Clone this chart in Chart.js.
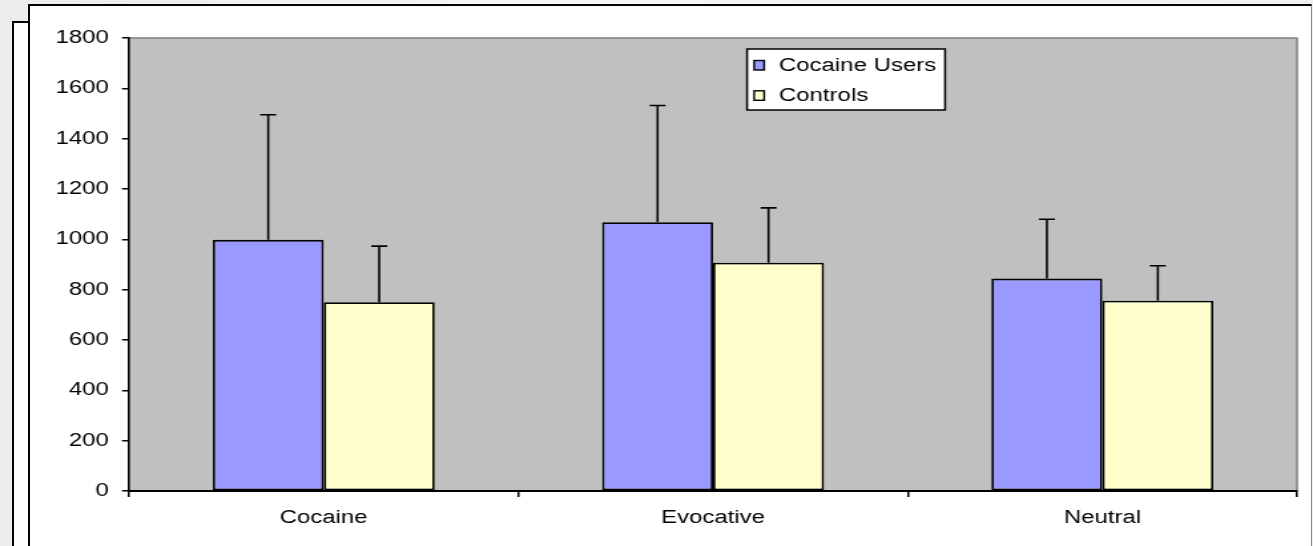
<!DOCTYPE html>
<html>
<head>
<meta charset="utf-8">
<script src="https://cdn.jsdelivr.net/npm/chart.js@4.4.1/dist/chart.umd.min.js"></script>
<style>
  html, body { margin: 0; padding: 0; }
  body { width: 1313px; height: 546px; overflow: hidden; position: relative;
         background: linear-gradient(90deg, #ececec, #f6f6f6 40%, #f0f0f0); }
  #back { position: absolute; left: 12px; top: 21px; width: 30px; height: 600px;
          background: #fff; border-left: 2px solid #000; border-top: 2px solid #000; }
  #frame { position: absolute; left: 28px; top: 4px; width: 1281px; height: 600px;
           background: #fff; border-left: 2px solid #000; border-top: 2px solid #000;
           border-right: 1px solid #888; }
  /* the original picture is stretched sideways, so the chart is drawn narrow and scaled */
  #wrap { position: absolute; left: 0; top: 0; width: 987px; height: 546px;
          transform: scaleX(1.3303); transform-origin: 0 0; }
</style>
</head>
<body>
<div id="back"></div>
<div id="frame"></div>
<div id="wrap"><canvas id="chart" width="987" height="546"></canvas></div>
<script>
const categories = ["Cocaine", "Evocative", "Neutral"];
const seriesNames = ["Cocaine Users", "Controls"];
const cocaineUsers = [998, 1068, 844];
const controls = [750, 907, 756];
// upper error bar lengths
const cocaineUsersErr = [497, 464, 236];
const controlsErr = [223, 218, 139];
const yTicks = [0, 200, 400, 600, 800, 1000, 1200, 1400, 1600, 1800];

const errors = [cocaineUsersErr, controlsErr];

Chart.defaults.font.family = "'Liberation Sans', Arial, sans-serif";
Chart.defaults.font.size = 18;
Chart.defaults.color = '#000';

// gray plot area with a gray top and right edge
const plotBackground = {
  id: 'plotBackground',
  beforeDraw(chart) {
    const { ctx, chartArea: a } = chart;
    ctx.save();
    ctx.fillStyle = '#c0c0c0';
    ctx.fillRect(a.left, a.top, a.right - a.left, a.bottom - a.top);
    ctx.strokeStyle = '#808080';
    ctx.lineWidth = 1.5;
    ctx.beginPath();
    ctx.moveTo(a.left, a.top);
    ctx.lineTo(a.right, a.top);
    ctx.lineTo(a.right, a.bottom);
    ctx.stroke();
    ctx.restore();
  }
};

// upper error bars
const errorBars = {
  id: 'errorBars',
  afterDatasetsDraw(chart) {
    const { ctx } = chart;
    const y = chart.scales.y;
    ctx.save();
    ctx.strokeStyle = '#000';
    ctx.lineWidth = 1.6;
    chart.data.datasets.forEach((ds, i) => {
      const meta = chart.getDatasetMeta(i);
      meta.data.forEach((bar, j) => {
        const top = y.getPixelForValue(ds.data[j] + errors[i][j]);
        ctx.beginPath();
        ctx.moveTo(bar.x, bar.y);
        ctx.lineTo(bar.x, top);
        ctx.moveTo(bar.x - 6, top);
        ctx.lineTo(bar.x + 6, top);
        ctx.stroke();
      });
    });
    ctx.restore();
  }
};

// boxed legend inside the plot area
const boxLegend = {
  id: 'boxLegend',
  afterDraw(chart) {
    const { ctx, chartArea: a } = chart;
    const left = a.left + 464.6, top = a.top + 11, w = 148.8, h = 61;
    ctx.save();
    ctx.fillStyle = '#fff';
    ctx.fillRect(left, top, w, h);
    ctx.strokeStyle = '#000';
    ctx.lineWidth = 1.5;
    ctx.strokeRect(left, top, w, h);
    ctx.font = "18px 'Liberation Sans', Arial, sans-serif";
    ctx.textBaseline = 'middle';
    const rows = [16, 46.3];
    chart.data.datasets.forEach((ds, i) => {
      ctx.fillStyle = ds.backgroundColor;
      ctx.fillRect(left + 5.3, top + rows[i] - 4.5, 7.5, 9.5);
      ctx.lineWidth = 1.4;
      ctx.strokeRect(left + 5.3, top + rows[i] - 4.5, 7.5, 9.5);
      ctx.fillStyle = '#000';
      ctx.fillText(ds.label, left + 24, top + rows[i] + 1);
    });
    ctx.restore();
  }
};

new Chart(document.getElementById('chart'), {
  type: 'bar',
  data: {
    labels: categories,
    datasets: [
      { label: seriesNames[0], data: cocaineUsers, backgroundColor: '#9999ff',
        borderColor: '#000', borderWidth: 1.8, borderSkipped: false },
      { label: seriesNames[1], data: controls, backgroundColor: '#ffffcc',
        borderColor: '#000', borderWidth: 1.8, borderSkipped: false }
    ]
  },
  options: {
    responsive: false,
    animation: false,
    devicePixelRatio: 1,
    layout: { padding: { top: 38, right: 12, left: 0, bottom: 0 } },
    datasets: { bar: { categoryPercentage: 0.57, barPercentage: 1 } },
    plugins: { legend: { display: false }, tooltip: { enabled: false } },
    scales: {
      x: {
        offset: true,
        grid: { offset: true, drawOnChartArea: false, drawTicks: true, tickLength: 6, color: '#000', lineWidth: 1.5 },
        border: { color: '#000', width: 2 },
        ticks: { padding: 10, maxRotation: 0 },
        afterFit(scale) { scale.height = 55; }
      },
      y: {
        min: 0,
        max: 1800,
        afterBuildTicks(scale) { scale.ticks = yTicks.map(v => ({ value: v })); },
        grid: { drawOnChartArea: false, drawTicks: true, tickLength: 5.3, color: '#000', lineWidth: 1.5 },
        border: { color: '#000', width: 1.6 },
        ticks: { padding: 10, callback: v => String(v) },
        afterFit(scale) { scale.width = 97; }
      }
    }
  },
  plugins: [plotBackground, errorBars, boxLegend]
});
</script>
</body>
</html>
